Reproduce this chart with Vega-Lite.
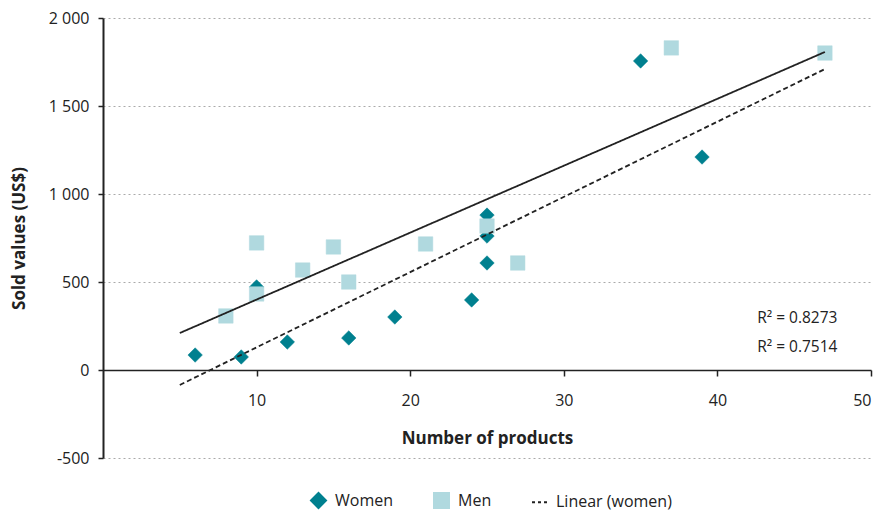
{
  "$schema": "https://vega.github.io/schema/vega-lite/v6.json",
  "autosize": "none",
  "width": 768,
  "height": 440,
  "padding": {"left": 103, "top": 18, "right": 11, "bottom": 53},
  "config": {
    "view": {"stroke": null},
    "font": "Open Sans",
    "axis": {"labelFont": "Open Sans", "titleFont": "Open Sans", "labelColor": "#222", "titleColor": "#222"}
  },
  "layer": [
    {
      "data": {
        "values": [
          {"products": 6, "sold": 85, "group": "Women"},
          {"products": 9, "sold": 74, "group": "Women"},
          {"products": 10, "sold": 472, "group": "Women"},
          {"products": 12, "sold": 159, "group": "Women"},
          {"products": 16, "sold": 182, "group": "Women"},
          {"products": 19, "sold": 301, "group": "Women"},
          {"products": 24, "sold": 398, "group": "Women"},
          {"products": 25, "sold": 608, "group": "Women"},
          {"products": 25, "sold": 761, "group": "Women"},
          {"products": 25, "sold": 880, "group": "Women"},
          {"products": 35, "sold": 1756, "group": "Women"},
          {"products": 39, "sold": 1210, "group": "Women"},
          {"products": 8, "sold": 307, "group": "Men"},
          {"products": 10, "sold": 432, "group": "Men"},
          {"products": 10, "sold": 722, "group": "Men"},
          {"products": 13, "sold": 568, "group": "Men"},
          {"products": 15, "sold": 699, "group": "Men"},
          {"products": 16, "sold": 500, "group": "Men"},
          {"products": 21, "sold": 716, "group": "Men"},
          {"products": 25, "sold": 818, "group": "Men"},
          {"products": 27, "sold": 608, "group": "Men"},
          {"products": 37, "sold": 1830, "group": "Men"},
          {"products": 47, "sold": 1801, "group": "Men"}
        ]
      },
      "mark": {"type": "point", "filled": true, "size": 210, "opacity": 1, "strokeWidth": 0.5},
      "encoding": {
        "x": {
          "field": "products", "type": "quantitative",
          "scale": {"domain": [0, 50], "nice": false},
          "axis": {
            "values": [10, 20, 30, 40, 50], "offset": -88, "grid": false,
            "domainColor": "#222", "domainWidth": 1.5, "tickColor": "#222", "tickWidth": 1.5, "tickSize": 6,
            "labelPadding": 16, "labelFontSize": 16,
            "title": "Number of products", "titleFontSize": 17, "titleFontWeight": "bold", "titlePadding": 22
          }
        },
        "y": {
          "field": "sold", "type": "quantitative",
          "scale": {"domain": [-500, 2000], "nice": false, "zero": false},
          "axis": {
            "values": [-500, 0, 500, 1000, 1500, 2000], "grid": true, "gridDash": [2, 3], "gridColor": "#aaa", "gridWidth": 1,
            "domainColor": "#222", "domainWidth": 2, "tickColor": "#222", "tickWidth": 1.5, "tickSize": 5,
            "labelPadding": 9, "labelFontSize": 16,
            "labelExpr": "datum.value >= 1000 ? replace(format(datum.value, ','), ',', ' ') : '' + datum.value",
            "title": "Sold values (US$)", "titleFontSize": 17, "titleFontWeight": "bold", "titlePadding": 20
          }
        },
        "shape": {
          "field": "group", "type": "nominal",
          "scale": {"domain": ["Women", "Men", "Linear (women)"], "range": ["diamond", "square", "M-1,0H-0.6M-0.2,0H0.2M0.6,0H1"]},
          "legend": {"title": null, "orient": "none", "direction": "horizontal", "legendX": 207, "legendY": 474, "labelFont": "Open Sans", "labelFontSize": 16, "labelColor": "#222", "symbolSize": 225, "columnPadding": 36, "labelOffset": 8, "symbolStrokeWidth": 2}
        },
        "fill": {
          "field": "group", "type": "nominal",
          "scale": {"domain": ["Women", "Men", "Linear (women)"], "range": ["#00808F", "#B0D9DF", "#222222"]},
          "legend": {"title": null, "orient": "none", "direction": "horizontal", "legendX": 207, "legendY": 474, "labelFont": "Open Sans", "labelFontSize": 16, "labelColor": "#222", "symbolSize": 225, "columnPadding": 36, "labelOffset": 8, "symbolStrokeWidth": 2}
        },
        "stroke": {
          "field": "group", "type": "nominal",
          "scale": {"domain": ["Women", "Men", "Linear (women)"], "range": ["#00808F", "#B0D9DF", "#222222"]},
          "legend": {"title": null, "orient": "none", "direction": "horizontal", "legendX": 207, "legendY": 474, "labelFont": "Open Sans", "labelFontSize": 16, "labelColor": "#222", "symbolSize": 225, "columnPadding": 36, "labelOffset": 8, "symbolStrokeWidth": 2}
        }
      }
    },
    {
      "data": {
        "values": [
          {"products": 5, "sold": 210, "series": "all"},
          {"products": 47, "sold": 1807, "series": "all"},
          {"products": 5, "sold": -85, "series": "women"},
          {"products": 47, "sold": 1710, "series": "women"}
        ]
      },
      "mark": {"type": "line", "color": "#222", "strokeWidth": 1.8},
      "encoding": {
        "x": {"field": "products", "type": "quantitative"},
        "y": {"field": "sold", "type": "quantitative"},
        "strokeDash": {"field": "series", "type": "nominal", "scale": {"domain": ["all", "women"], "range": [[1, 0], [5, 3]]}, "legend": null}
      }
    },
    {
      "data": {
        "values": [
          {"products": 45.2, "sold": 295, "label": "R² = 0.8273"},
          {"products": 45.2, "sold": 131, "label": "R² = 0.7514"}
        ]
      },
      "mark": {"type": "text", "font": "Open Sans", "fontSize": 15.5, "color": "#222", "align": "center", "baseline": "middle"},
      "encoding": {
        "x": {"field": "products", "type": "quantitative"},
        "y": {"field": "sold", "type": "quantitative"},
        "text": {"field": "label"}
      }
    }
  ]
}
